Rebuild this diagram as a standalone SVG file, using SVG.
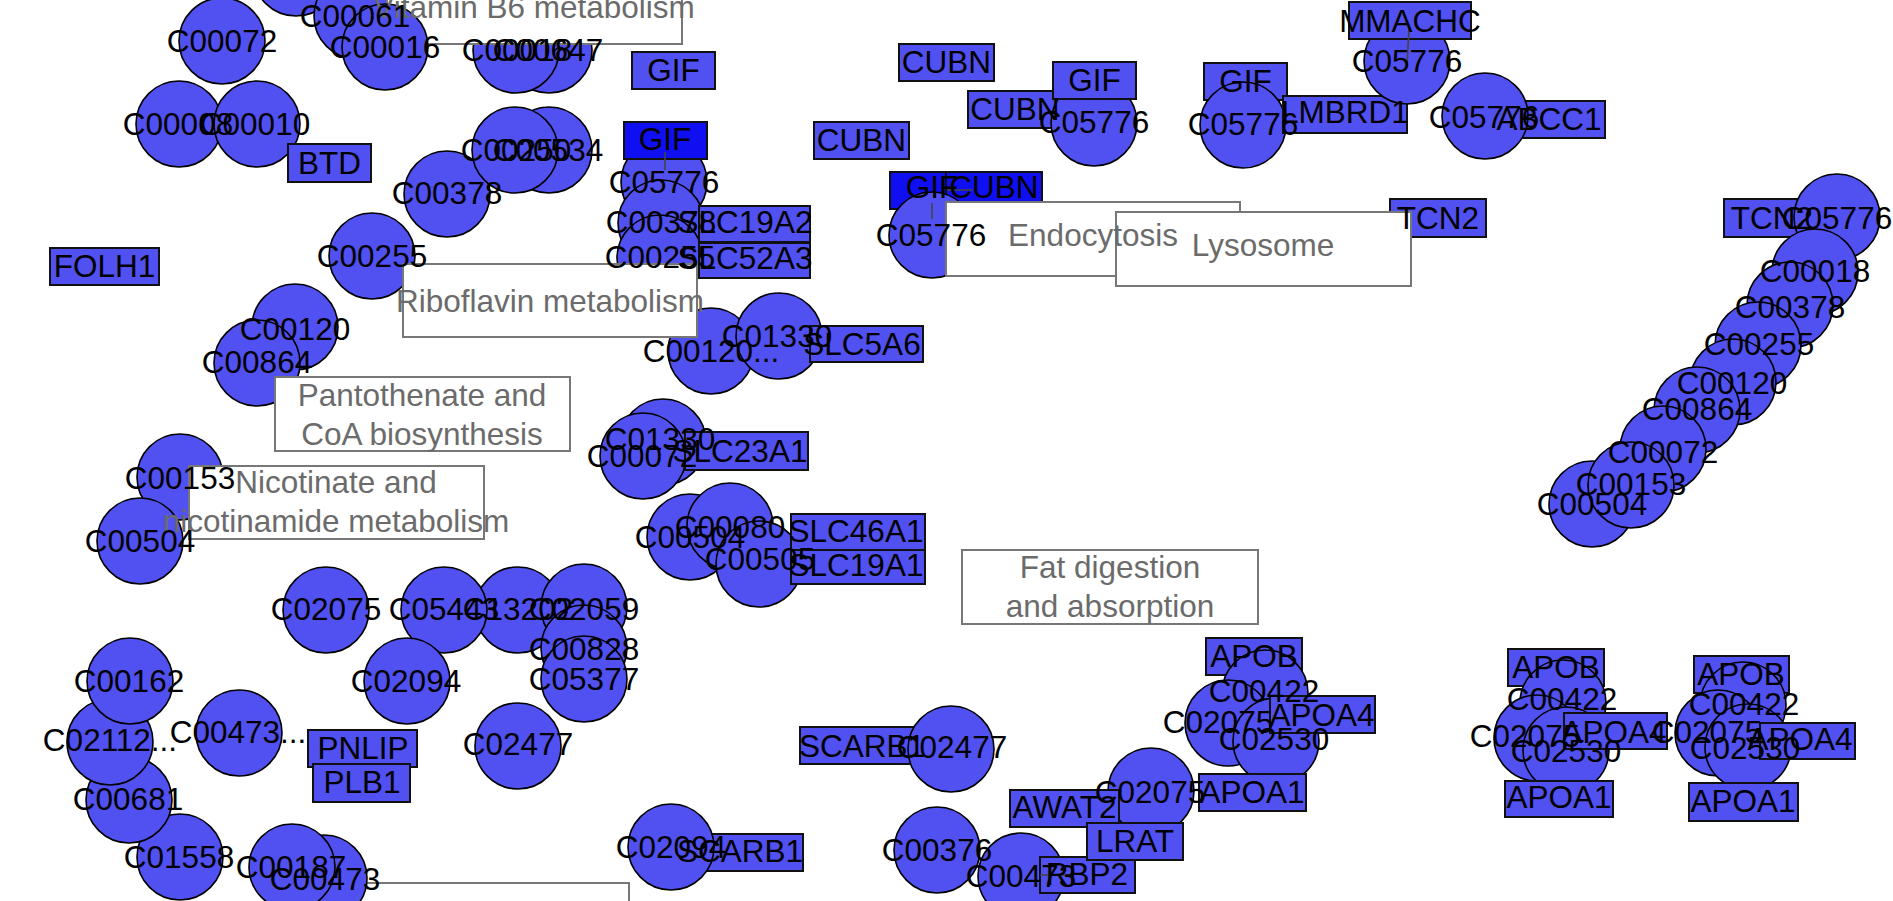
<svg xmlns="http://www.w3.org/2000/svg" width="1893" height="901" viewBox="0 0 1893 901">
<style>
.c{fill:#5151f1;stroke:#000;stroke-width:1.6}
.r{fill:#5151f1;stroke:#111;stroke-width:2}
.rd{fill:#0f0ff2;stroke:#111;stroke-width:2}
.b{fill:#fff;stroke:#777;stroke-width:2}
.e{stroke:#444;stroke-width:1.6;fill:none}
text{font-family:"Liberation Sans",Arial,sans-serif;font-size:31.5px;text-anchor:middle;fill:#000}
text.g{fill:#6b6b6b}
</style>
<rect width="1893" height="901" fill="#fff"/>
<g id="box-retinol"><rect class="b" x="334" y="883" width="295" height="74"/></g>
<g id="nodes">
<g id="n_top"><circle class="c" cx="296" cy="-27" r="43"/></g>
<g id="n_C00061"><circle class="c" cx="357" cy="16" r="43"/></g>
<g id="n_C00647"><circle class="c" cx="549" cy="50" r="43"/></g>
<g id="n_C00018_1"><circle class="c" cx="516" cy="50" r="43"/></g>
</g>
<g id="box-vitb6"><rect class="b" x="387" y="-30" width="295" height="74"/></g>
<g id="nodes2">
<g id="n_C00016"><circle class="c" cx="385" cy="47" r="43"/></g>
<g id="n_C00072_1"><circle class="c" cx="222" cy="41" r="43"/></g>
<g id="n_C00008"><circle class="c" cx="179" cy="124" r="43"/></g>
<g id="n_C00010"><circle class="c" cx="257" cy="124" r="43"/></g>
<g id="n_BTD"><rect class="r" x="288" y="144" width="83" height="38"/></g>
<g id="n_FOLH1"><rect class="r" x="50" y="248" width="109" height="37"/></g>
<g id="n_C00378_1"><circle class="c" cx="447" cy="194" r="43"/></g>
<g id="n_C00255_1"><circle class="c" cx="372" cy="256" r="43"/></g>
<g id="n_C00534"><circle class="c" cx="549" cy="150" r="43"/></g>
<g id="n_C00250"><circle class="c" cx="515" cy="150" r="43"/></g>
<g id="n_GIF_1"><rect class="r" x="632" y="52" width="83" height="37"/></g>
<g id="n_C05776_1"><circle class="c" cx="664" cy="182" r="43"/></g>
<g id="n_C00378_2"><circle class="c" cx="661" cy="223" r="43"/></g>
<g id="n_C00255_2"><circle class="c" cx="660" cy="258" r="43"/></g>
<g id="n_GIF_2"><rect class="rd" x="624" y="122" width="83" height="37"/></g>
<g id="n_SLC19A2"><rect class="r" x="699" y="206" width="111" height="36"/></g>
<g id="n_SLC52A3"><rect class="r" x="699" y="243" width="111" height="35"/></g>
<g id="n_CUBN_1"><rect class="r" x="899" y="44" width="95" height="37"/></g>
<g id="n_CUBN_2"><rect class="r" x="814" y="122" width="95" height="37"/></g>
<g id="n_CUBN_3"><rect class="r" x="968" y="91" width="95" height="37"/></g>
<g id="n_C05776_2"><circle class="c" cx="1094" cy="123" r="43"/></g>
<g id="n_GIF_3"><rect class="r" x="1053" y="62" width="83" height="37"/></g>
<g id="n_GIF_4"><rect class="r" x="1204" y="63" width="83" height="37"/></g>
<g id="n_C05776_3"><circle class="c" cx="1243" cy="125" r="43"/></g>
<g id="n_LMBRD1"><rect class="r" x="1283" y="96" width="124" height="37"/></g>
<g id="n_C05776_4"><circle class="c" cx="1407" cy="61" r="43"/></g>
<g id="n_MMACHC"><rect class="r" x="1349" y="2" width="122" height="37"/></g>
<g id="n_ABCC1"><rect class="r" x="1517" y="101" width="88" height="37"/></g>
<g id="n_C05776_5"><circle class="c" cx="1485" cy="116" r="43"/></g>
<g id="n_TCN2_1"><rect class="r" x="1390" y="199" width="96" height="38"/></g>
<g id="n_GIF_5"><rect class="rd" x="890" y="172" width="83" height="37"/></g>
<g id="n_CUBN_4"><rect class="rd" x="946" y="172" width="96" height="37"/></g>
<g id="n_C05776_6"><circle class="c" cx="932" cy="235" r="43"/></g>
<g id="n_TCN2_2"><rect class="r" x="1724" y="199" width="96" height="38"/></g>
<g id="n_C05776_7"><circle class="c" cx="1837" cy="217" r="43"/></g>
<g id="n_C00018_2"><circle class="c" cx="1815" cy="272" r="43"/></g>
<g id="n_C00378_3"><circle class="c" cx="1790" cy="305" r="43"/></g>
<g id="n_C00255_3"><circle class="c" cx="1758" cy="345" r="43"/></g>
<g id="n_C00120_3"><circle class="c" cx="1733" cy="382" r="43"/></g>
<g id="n_C00864_3"><circle class="c" cx="1697" cy="410" r="43"/></g>
<g id="n_C00072_3"><circle class="c" cx="1663" cy="449" r="43"/></g>
<g id="n_C00504_3"><circle class="c" cx="1592" cy="504" r="43"/></g>
<g id="n_C00153_3"><circle class="c" cx="1631" cy="485" r="43"/></g>
<g id="n_C00120_1"><circle class="c" cx="295" cy="327" r="43"/></g>
<g id="n_C00864_1"><circle class="c" cx="257" cy="363" r="43"/></g>
<g id="n_C00153_1"><circle class="c" cx="180" cy="477" r="43"/></g>
<g id="n_C00504_1"><circle class="c" cx="140" cy="541" r="43"/></g>
<g id="n_C00120_2"><circle class="c" cx="711" cy="351" r="43"/></g>
<g id="n_C01330_1"><circle class="c" cx="779" cy="336" r="43"/></g>
<g id="n_SLC5A6"><rect class="r" x="810" y="326" width="113" height="36"/></g>
<g id="n_C01330_2"><circle class="c" cx="663" cy="442" r="43"/></g>
<g id="n_C00072_2"><circle class="c" cx="643" cy="456" r="43"/></g>
<g id="n_SLC23A1"><rect class="r" x="685" y="432" width="123" height="38"/></g>
<g id="n_C00504_2"><circle class="c" cx="690" cy="537" r="43"/></g>
<g id="n_C00080"><circle class="c" cx="730" cy="526" r="43"/></g>
<g id="n_C00505"><circle class="c" cx="759" cy="564" r="43"/></g>
<g id="n_SLC46A1"><rect class="r" x="791" y="514" width="134" height="36"/></g>
<g id="n_SLC19A1"><rect class="r" x="791" y="550" width="134" height="34"/></g>
<g id="n_C02075_1"><circle class="c" cx="326" cy="610" r="43"/></g>
<g id="n_C13202"><circle class="c" cx="518" cy="610" r="43"/></g>
<g id="n_C05443"><circle class="c" cx="444" cy="610" r="43"/></g>
<g id="n_C02059"><circle class="c" cx="584" cy="607" r="43"/></g>
<g id="n_C00828"><circle class="c" cx="584" cy="648" r="43"/></g>
<g id="n_C05377"><circle class="c" cx="584" cy="679" r="43"/></g>
<g id="n_C02094_1"><circle class="c" cx="407" cy="681" r="43"/></g>
<g id="n_C02477_1"><circle class="c" cx="518" cy="746" r="43"/></g>
<g id="n_C01558"><circle class="c" cx="180" cy="857" r="43"/></g>
<g id="n_C00681"><circle class="c" cx="129" cy="800" r="43"/></g>
<g id="n_C02112"><circle class="c" cx="110" cy="742" r="43"/></g>
<g id="n_C00162"><circle class="c" cx="130" cy="681" r="43"/></g>
<g id="n_C00473_1"><circle class="c" cx="239" cy="733" r="43"/></g>
<g id="n_PNLIP"><rect class="r" x="308" y="730" width="109" height="37"/></g>
<g id="n_PLB1"><rect class="r" x="313" y="764" width="97" height="38"/></g>
<g id="n_C00473_2"><circle class="c" cx="324" cy="878" r="43"/></g>
<g id="n_C00187"><circle class="c" cx="292" cy="867" r="43"/></g>
<g id="n_SCARB1_1"><rect class="r" x="800" y="727" width="123" height="37"/></g>
<g id="n_C02477_2"><circle class="c" cx="951" cy="749" r="43"/></g>
<g id="n_SCARB1_2"><rect class="r" x="680" y="834" width="123" height="37"/></g>
<g id="n_C02094_2"><circle class="c" cx="671" cy="847" r="43"/></g>
<g id="n_C00376"><circle class="c" cx="937" cy="850" r="43"/></g>
<g id="n_C00473_3"><circle class="c" cx="1021" cy="876" r="43"/></g>
<g id="n_RBP2"><rect class="r" x="1040" y="857" width="95" height="36"/></g>
<g id="n_C02075_2"><circle class="c" cx="1151" cy="791" r="43"/></g>
<g id="n_AWAT2"><rect class="r" x="1010" y="790" width="109" height="37"/></g>
<g id="n_LRAT"><rect class="r" x="1087" y="823" width="96" height="37"/></g>
<g id="n_APOB_1"><rect class="r" x="1206" y="638" width="96" height="37"/></g>
<g id="n_C00422_1"><circle class="c" cx="1265" cy="693" r="43"/></g>
<g id="n_C02075_3"><circle class="c" cx="1228" cy="723" r="43"/></g>
<g id="n_C02530_1"><circle class="c" cx="1276" cy="741" r="43"/></g>
<g id="n_APOA4_1"><rect class="r" x="1270" y="696" width="105" height="37"/></g>
<g id="n_APOA1_1"><rect class="r" x="1199" y="774" width="107" height="37"/></g>
<g id="n_APOB_2"><rect class="r" x="1508" y="649" width="96" height="37"/></g>
<g id="n_C00422_2"><circle class="c" cx="1563" cy="703" r="43"/></g>
<g id="n_C02075_4"><circle class="c" cx="1537" cy="738" r="43"/></g>
<g id="n_C02530_2"><circle class="c" cx="1566" cy="750" r="43"/></g>
<g id="n_APOA4_2"><rect class="r" x="1564" y="713" width="103" height="36"/></g>
<g id="n_APOA1_2"><rect class="r" x="1505" y="781" width="108" height="36"/></g>
<g id="n_APOB_3"><rect class="r" x="1694" y="656" width="95" height="37"/></g>
<g id="n_C00422_3"><circle class="c" cx="1743" cy="705" r="43"/></g>
<g id="n_C02075_5"><circle class="c" cx="1718" cy="733" r="43"/></g>
<g id="n_C02530_3"><circle class="c" cx="1748" cy="747" r="43"/></g>
<g id="n_APOA4_3"><rect class="r" x="1760" y="723" width="95" height="36"/></g>
<g id="n_APOA1_3"><rect class="r" x="1689" y="783" width="109" height="38"/></g>
</g>
<g id="edges">
<line class="e" x1="665" y1="152" x2="665" y2="170"/>
<line class="e" x1="947" y1="190" x2="973" y2="190"/>
<line class="e" x1="932" y1="203" x2="932" y2="219"/>
<line class="e" x1="1409" y1="28" x2="1407" y2="65"/>
<line class="e" x1="1040" y1="875" x2="1073" y2="875"/>
</g>
<g id="boxes">
<g id="box-riboflavin"><rect class="b" x="403" y="264" width="294" height="73"/></g>
<g id="box-pantothenate"><rect class="b" x="275" y="377" width="295" height="74"/></g>
<g id="box-nicotinate"><rect class="b" x="189" y="466" width="295" height="73"/></g>
<g id="box-endocytosis"><rect class="b" x="946" y="202" width="294" height="74"/></g>
<g id="box-lysosome"><rect class="b" x="1116" y="212" width="295" height="74"/></g>
<g id="box-fat"><rect class="b" x="962" y="550" width="296" height="74"/></g>
</g>
<g id="labels">
<text class="g" x="534" y="18">Vitamin B6 metabolism</text>
<text class="g" x="550" y="312">Riboflavin metabolism</text>
<text class="g" x="422" y="406">Pantothenate and</text>
<text class="g" x="422" y="445">CoA biosynthesis</text>
<text class="g" x="336" y="493">Nicotinate and</text>
<text class="g" x="336" y="532">nicotinamide metabolism</text>
<text class="g" x="1093" y="246">Endocytosis</text>
<text class="g" x="1263" y="256">Lysosome</text>
<text class="g" x="1110" y="578">Fat digestion</text>
<text class="g" x="1110" y="617">and absorption</text>
<text x="355" y="27">C00061</text>
<text x="517" y="61">C00018</text>
<text x="548" y="61">C00647</text>
<text x="385" y="58">C00016</text>
<text x="222" y="52">C00072</text>
<text x="178" y="135">C00008</text>
<text x="255" y="135">C00010</text>
<text x="329.5" y="174">BTD</text>
<text x="104.5" y="277">FOLH1</text>
<text x="447" y="204">C00378</text>
<text x="372" y="267">C00255</text>
<text x="516" y="161">C00250</text>
<text x="548" y="161">C00534</text>
<text x="673.5" y="81">GIF</text>
<text x="665" y="150">GIF</text>
<text x="664" y="193">C05776</text>
<text x="661" y="233">C00378</text>
<text x="660" y="268">C00255</text>
<text x="745" y="233">SLC19A2</text>
<text x="745" y="269">SLC52A3</text>
<text x="946.5" y="73">CUBN</text>
<text x="861.5" y="151">CUBN</text>
<text x="1015" y="120">CUBN</text>
<text x="1094" y="133">C05776</text>
<text x="1094.5" y="91">GIF</text>
<text x="1245.5" y="92">GIF</text>
<text x="1243" y="135">C05776</text>
<text x="1345" y="123">LMBRD1</text>
<text x="1407" y="72">C05776</text>
<text x="1410" y="32">MMACHC</text>
<text x="1484" y="128">C05776</text>
<text x="1549" y="130">ABCC1</text>
<text x="1438" y="229">TCN2</text>
<text x="932" y="198">GIF</text>
<text x="994" y="198">CUBN</text>
<text x="931" y="246">C05776</text>
<text x="1772" y="229">TCN2</text>
<text x="1837" y="229">C05776</text>
<text x="1815" y="282">C00018</text>
<text x="1790" y="318">C00378</text>
<text x="1759" y="355">C00255</text>
<text x="1732" y="394">C00120</text>
<text x="1697" y="420">C00864</text>
<text x="1663" y="463">C00072</text>
<text x="1631" y="495">C00153</text>
<text x="1592" y="515">C00504</text>
<text x="295" y="340">C00120</text>
<text x="257" y="373">C00864</text>
<text x="180" y="489">C00153</text>
<text x="140" y="552">C00504</text>
<text x="711" y="362">C00120...</text>
<text x="777" y="347">C01330</text>
<text x="862" y="355">SLC5A6</text>
<text x="660" y="450">C01330</text>
<text x="642" y="467">C00072</text>
<text x="740" y="462">SLC23A1</text>
<text x="690" y="548">C00504</text>
<text x="730" y="538">C00080</text>
<text x="760" y="570">C00505</text>
<text x="856" y="542">SLC46A1</text>
<text x="856" y="576">SLC19A1</text>
<text x="326" y="620">C02075</text>
<text x="444" y="620">C05443</text>
<text x="518" y="620">C13202</text>
<text x="584" y="620">C02059</text>
<text x="584" y="660">C00828</text>
<text x="584" y="690">C05377</text>
<text x="406" y="692">C02094</text>
<text x="518" y="755">C02477</text>
<text x="129" y="692">C00162</text>
<text x="110" y="751">C02112...</text>
<text x="128" y="810">C00681</text>
<text x="179" y="868">C01558</text>
<text x="238" y="743">C00473...</text>
<text x="363" y="759">PNLIP</text>
<text x="362" y="793">PLB1</text>
<text x="291" y="878">C00187</text>
<text x="325" y="890">C00473</text>
<text x="862" y="757">SCARB1</text>
<text x="952" y="758">C02477</text>
<text x="671" y="858">C02094</text>
<text x="740" y="862">SCARB1</text>
<text x="937" y="861">C00376</text>
<text x="1021" y="887">C00473</text>
<text x="1087" y="885">RBP2</text>
<text x="1150" y="803">C02075</text>
<text x="1064.5" y="818">AWAT2</text>
<text x="1135" y="852">LRAT</text>
<text x="1254" y="667">APOB</text>
<text x="1264" y="702">C00422</text>
<text x="1218" y="733">C02075</text>
<text x="1274" y="750">C02530</text>
<text x="1322" y="726">APOA4</text>
<text x="1252" y="803">APOA1</text>
<text x="1556" y="678">APOB</text>
<text x="1562" y="710">C00422</text>
<text x="1525" y="747">C02075</text>
<text x="1566" y="762">C02530</text>
<text x="1614" y="743">APOA4</text>
<text x="1559" y="808">APOA1</text>
<text x="1741" y="685">APOB</text>
<text x="1744" y="715">C00422</text>
<text x="1707" y="743">C02075</text>
<text x="1745" y="759">C02530</text>
<text x="1800" y="750">APOA4</text>
<text x="1743" y="812">APOA1</text>
</g>
</svg>
